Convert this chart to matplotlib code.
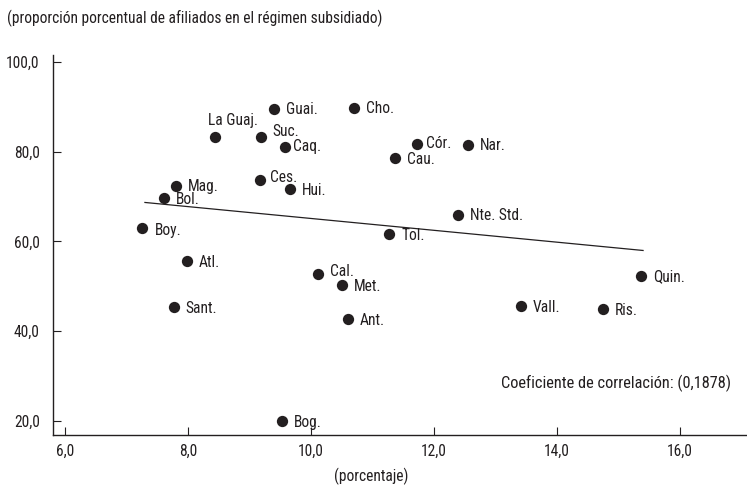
import matplotlib
matplotlib.use("Agg")
import matplotlib.pyplot as plt
from matplotlib import font_manager
from matplotlib.font_manager import FontProperties

# pick a narrow/condensed regular font if available
cands = []
for f in font_manager.fontManager.ttflist:
    fn = f.fname.lower()
    if ('narrow' in fn or 'condensed' in fn) and not any(k in fn for k in ['bold', 'italic', 'oblique', 'light', 'thin', 'medium', 'black', 'semi', 'extra']):
        cands.append(f.fname)
pref = ['liberationsansnarrow', 'robotocondensed', 'dejavusanscondensed', 'opensans']
cands.sort(key=lambda p: next((i for i, k in enumerate(pref) if k in p.lower().replace('-', '').replace('_', '')), 99))
FONT_FILE = cands[0] if cands else None
NARROW = FONT_FILE is not None

# Data (x: porcentaje, y: proporción de afiliados en régimen subsidiado)
labels = ['Guai.', 'Cho.', 'La Guaj.', 'Suc.', 'Caq.', 'Cór.', 'Nar.', 'Cau.',
          'Ces.', 'Hui.', 'Mag.', 'Bol.', 'Boy.', 'Nte. Std.', 'Tol.', 'Atl.',
          'Cal.', 'Met.', 'Quin.', 'Sant.', 'Ant.', 'Vall.', 'Ris.', 'Bog.']
x_vals = [9.40, 10.70, 8.44, 9.19, 9.58, 11.72, 12.55, 11.37,
          9.17, 9.66, 7.80, 7.61, 7.25, 12.39, 11.27, 7.98,
          10.11, 10.50, 15.37, 7.77, 10.60, 13.41, 14.75, 9.53]
y_vals = [89.6, 89.8, 83.3, 83.3, 81.1, 81.8, 81.6, 78.7,
          73.8, 71.6, 72.4, 69.6, 62.9, 66.0, 61.6, 55.6,
          52.7, 50.2, 52.4, 45.3, 42.7, 45.6, 44.9, 19.9]
trend_x = [7.30, 15.40]
trend_y = [68.7, 58.0]
x_ticks = [6.0, 8.0, 10.0, 12.0, 14.0, 16.0]
y_ticks = [20.0, 40.0, 60.0, 80.0, 100.0]
corr_text = 'Coeficiente de correlación: (0,1878)'

FS = 11.2 if NARROW else 9.6

def fp(size=FS):
    if NARROW:
        return FontProperties(fname=FONT_FILE, size=size)
    return FontProperties(family=['Roboto', 'DejaVu Sans'], size=size)

# label offsets in pixels (dx, dy) relative to the dot; dy positive = up
offsets = {
    'La Guaj.': (-7, 16), 'Suc.': (11, 5), 'Caq.': (8, 0), 'Cór.': (9, 0),
    'Cau.': (12, -2), 'Ces.': (10, 2), 'Cal.': (12, 3), 'Boy.': (13, -2),
}

col = '#231f20'
fig = plt.figure(figsize=(7.47, 4.86), dpi=100)
ax = fig.add_axes([53/747, 51/486, 694/747, 380/486])
ax.set_xlim(5.805, 17.09)
ax.set_ylim(16.88, 101.56)

ax.scatter(x_vals, y_vals, s=66, color=col, zorder=3, linewidths=0)
ax.plot(trend_x, trend_y, color=col, lw=0.9, zorder=2)

for lab, xv, yv in zip(labels, x_vals, y_vals):
    dx, dy = offsets.get(lab, (12, -1))
    ax.annotate(lab, (xv, yv), xytext=(dx, dy), textcoords='offset pixels',
                ha='left', va='center', fontproperties=fp(), color=col)

for s in ['top', 'right']:
    ax.spines[s].set_visible(False)
for s in ['left', 'bottom']:
    ax.spines[s].set_color(col)
    ax.spines[s].set_linewidth(1.0)

ax.set_xticks(x_ticks)
ax.set_xticklabels([f'{v:.1f}'.replace('.', ',') for v in x_ticks], fontproperties=fp())
ax.set_yticks(y_ticks)
ax.set_yticklabels([f'{v:.1f}'.replace('.', ',') for v in y_ticks], fontproperties=fp())
ax.tick_params(axis='x', direction='in', length=6, width=0.8, colors=col, pad=6)
ax.tick_params(axis='y', direction='in', length=6, width=0.8, colors=col, pad=9.5)

fig.text(731/747, 1 - 383/486, corr_text, ha='right', va='center', fontproperties=fp(size=FS*1.05), color=col)
fig.text(7/747, 1 - 18/486, '(proporción porcentual de afiliados en el régimen subsidiado)',
         ha='left', va='center', fontproperties=fp(), color=col)
fig.text(371/747, 1 - 476/486, '(porcentaje)', ha='center', va='center', fontproperties=fp(), color=col)

fig.savefig('out.png', dpi=100)
